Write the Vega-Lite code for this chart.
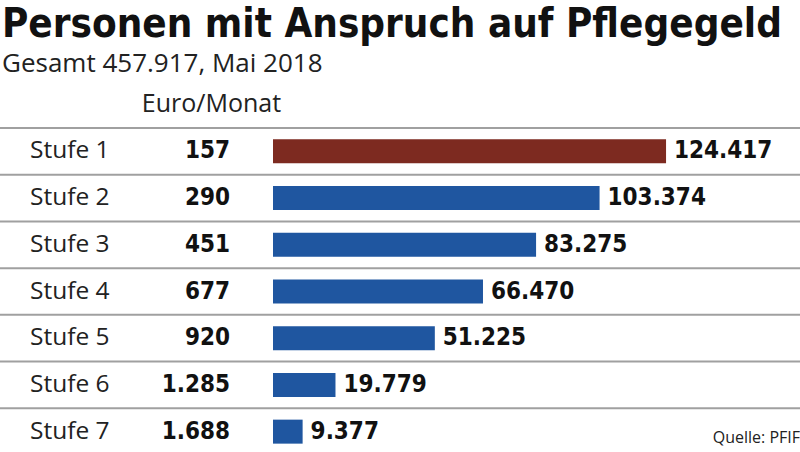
{
  "$schema": "https://vega.github.io/schema/vega-lite/v6.json",
  "width": 800,
  "height": 327,
  "autosize": {"type": "none"},
  "padding": {"left": 0, "top": 128, "right": 0, "bottom": 0},
  "background": "white",
  "config": {
    "view": {"stroke": null},
    "locale": {"number": {"decimal": ",", "thousands": ".", "grouping": [3], "currency": ["", " €"]}}
  },
  "title": {
    "text": "Personen mit Anspruch auf Pflegegeld",
    "subtitle": "Gesamt 457.917, Mai 2018",
    "anchor": "start",
    "frame": "group",
    "font": "DejaVu Sans Condensed, Roboto Condensed, sans-serif",
    "fontSize": 40,
    "fontWeight": "bold",
    "color": "#111111",
    "subtitleFont": "Open Sans",
    "subtitleFontSize": 26,
    "subtitleColor": "#222222",
    "subtitlePadding": 6,
    "offset": 14,
    "dx": 2
  },
  "data": {
    "values": [
      {"Stufe": "Stufe 1", "Euro": 157, "Personen": 124417},
      {"Stufe": "Stufe 2", "Euro": 290, "Personen": 103374},
      {"Stufe": "Stufe 3", "Euro": 451, "Personen": 83275},
      {"Stufe": "Stufe 4", "Euro": 677, "Personen": 66470},
      {"Stufe": "Stufe 5", "Euro": 920, "Personen": 51225},
      {"Stufe": "Stufe 6", "Euro": 1285, "Personen": 19779},
      {"Stufe": "Stufe 7", "Euro": 1688, "Personen": 9377}
    ]
  },
  "encoding": {
    "y": {"field": "Stufe", "type": "nominal", "sort": null, "scale": {"paddingInner": 0, "paddingOuter": 0}, "axis": null}
  },
  "layer": [
    {
      "mark": {"type": "rule", "color": "#a0a0a0", "strokeWidth": 2},
      "encoding": {"y": {"field": "Stufe", "type": "nominal", "sort": null, "bandPosition": 0}}
    },
    {
      "mark": {"type": "bar", "height": 24},
      "encoding": {
        "x": {
          "field": "Personen", "type": "quantitative",
          "scale": {"domain": [0, 166820], "range": [273, 800], "nice": false, "zero": true},
          "axis": {
            "orient": "top", "title": "Euro/Monat", "labels": false, "ticks": false, "domain": false, "grid": false,
            "titleFont": "Open Sans", "titleFontSize": 25, "titleFontWeight": "normal", "titleColor": "#222222",
            "titleX": 211, "titleY": -17, "titleAlign": "center", "titleBaseline": "alphabetic"
          }
        },
        "color": {"condition": {"test": "datum.Stufe === 'Stufe 1'", "value": "#7d2a20"}, "value": "#1f56a0"}
      }
    },
    {
      "mark": {"type": "text", "align": "left", "baseline": "middle", "dx": 8, "font": "DejaVu Sans Condensed, Roboto Condensed, sans-serif", "fontWeight": "bold", "fontSize": 24, "color": "#111111"},
      "encoding": {
        "x": {"field": "Personen", "type": "quantitative"},
        "text": {"field": "Personen", "type": "quantitative", "format": ",d"}
      }
    },
    {
      "mark": {"type": "text", "align": "right", "baseline": "middle", "dx": -43, "font": "DejaVu Sans Condensed, Roboto Condensed, sans-serif", "fontWeight": "bold", "fontSize": 24, "color": "#111111"},
      "encoding": {
        "x": {"datum": 0, "type": "quantitative"},
        "text": {"field": "Euro", "type": "quantitative", "format": ",d"}
      }
    },
    {
      "mark": {"type": "text", "align": "left", "baseline": "middle", "dx": -243, "font": "Open Sans", "fontSize": 24.5, "color": "#222222"},
      "encoding": {
        "x": {"datum": 0, "type": "quantitative"},
        "text": {"field": "Stufe", "type": "nominal"}
      }
    },
    {
      "data": {"values": [{"Stufe": "Stufe 7", "Quelle": "Quelle: PFIF"}]},
      "mark": {"type": "text", "align": "right", "baseline": "middle", "dy": 6, "font": "Open Sans", "fontSize": 16, "color": "#222222"},
      "encoding": {
        "x": {"datum": 166820, "type": "quantitative"},
        "text": {"field": "Quelle", "type": "nominal"}
      }
    }
  ]
}
